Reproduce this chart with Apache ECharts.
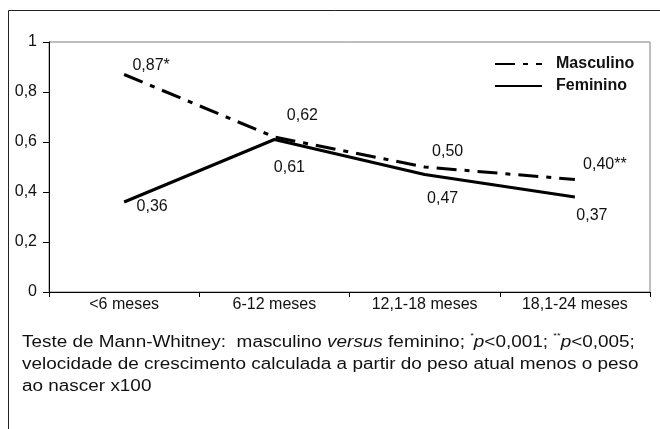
<!DOCTYPE html>
<html>
<head>
<meta charset="utf-8">
<script src="https://cdn.jsdelivr.net/npm/echarts@6/dist/echarts.min.js"></script>
<style>
html,body{margin:0;padding:0;background:#fff;}
#chart{width:660px;height:429px;}
</style>
</head>
<body>
<div id="chart"></div>
<script>
var categories = ['<6 meses', '6-12 meses', '12,1-18 meses', '18,1-24 meses'];
var masculino = [0.87, 0.62, 0.50, 0.45];
var feminino = [0.36, 0.61, 0.47, 0.38];
var masculinoLabels = ['0,87*', '0,62', '0,50', '0,40**'];
var femininoLabels = ['0,36', '0,61', '0,47', '0,37'];
var yTicks = { min: 0, max: 1, interval: 0.2 };

// label layout offsets (style, not data)
var mascOffsets = [[27, -9], [28, -21], [23, -15], [30, -15]];
var femOffsets = [[28, 5], [15, 28], [18, 24], [17, 19]];

var FONT = '"Liberation Sans", Arial, sans-serif';
var TXT = '#111';

function mkData(vals, offs) {
  return vals.map(function (v, i) {
    return { value: v, label: { offset: offs[i] } };
  });
}

var chart = echarts.init(document.getElementById('chart'), null, { renderer: 'canvas' });
chart.setOption({
  backgroundColor: '#fff',
  animation: false,
  grid: { left: 49, top: 42, right: 10, bottom: 137, show: true, borderColor: '#7f7f7f', borderWidth: 1 },
  legend: {
    orient: 'vertical', left: 494, top: 56, padding: 0, itemWidth: 47, itemHeight: 14, itemGap: 6,
    textStyle: { fontFamily: FONT, fontSize: 16, fontWeight: 'bold', color: TXT, padding: [0, 0, 0, 9] },
    data: ['Masculino', 'Feminino']
  },
  xAxis: {
    type: 'category', data: categories, boundaryGap: true,
    axisLine: { lineStyle: { color: '#000', width: 1 } },
    axisTick: { show: true, length: 5, lineStyle: { color: '#000' } },
    axisLabel: { fontFamily: FONT, fontSize: 16, color: TXT, margin: 5 },
    splitLine: { show: false }
  },
  yAxis: {
    type: 'value', min: yTicks.min, max: yTicks.max, interval: yTicks.interval,
    axisLine: { show: true, lineStyle: { color: '#000', width: 1 } },
    axisTick: { show: true, length: 6, lineStyle: { color: '#000' } },
    axisLabel: {
      fontFamily: FONT, fontSize: 16, color: TXT, margin: 12,
      formatter: function (v) { return String(+v.toFixed(1)).replace('.', ','); }
    },
    splitLine: { show: false }
  },
  series: [
    {
      name: 'Masculino', type: 'line', data: mkData(masculino, mascOffsets),
      symbol: 'circle', symbolSize: 1, showSymbol: true, itemStyle: { color: 'rgba(0,0,0,0)', borderWidth: 0 },
      lineStyle: { color: '#000', width: 3, type: [20, 8, 5, 8] },
      label: {
        show: true, position: 'inside', fontFamily: FONT, fontSize: 16, color: TXT,
        formatter: function (p) { return masculinoLabels[p.dataIndex]; }
      },
      z: 3
    },
    {
      name: 'Feminino', type: 'line', data: mkData(feminino, femOffsets),
      symbol: 'circle', symbolSize: 1, showSymbol: true, itemStyle: { color: 'rgba(0,0,0,0)', borderWidth: 0 },
      lineStyle: { color: '#000', width: 3, type: 'solid' },
      label: {
        show: true, position: 'inside', fontFamily: FONT, fontSize: 16, color: TXT,
        formatter: function (p) { return femininoLabels[p.dataIndex]; }
      },
      z: 2
    }
  ],
  graphic: [
    { type: 'line', shape: { x1: 8.5, y1: 10.5, x2: 660, y2: 10.5 }, style: { stroke: '#222', lineWidth: 1 }, silent: true },
    { type: 'line', shape: { x1: 8.5, y1: 10.5, x2: 8.5, y2: 429 }, style: { stroke: '#222', lineWidth: 1 }, silent: true },
    {
      type: 'text', x: 22, y: 332, scaleX: 1.183, scaleY: 1, silent: true,
      style: {
        x: 0, y: 0, verticalAlign: 'top', align: 'left',
        text: '{n|Teste de Mann-Whitney:  masculino }{i|versus}{n| feminino; }{s|*}{i|p}{n|<0,001; }{s|**}{i|p}{n|<0,005;}\n' +
              '{n|velocidade de crescimento calculada a partir do peso atual menos o peso}\n' +
              '{n|ao nascer x100}',
        fill: TXT, fontFamily: FONT, fontSize: 16, lineHeight: 22,
        rich: {
          n: { fontFamily: FONT, fontSize: 16, fill: TXT, lineHeight: 22 },
          i: { fontFamily: FONT, fontSize: 16, fill: TXT, fontStyle: 'italic', lineHeight: 22 },
          s: { fontFamily: FONT, fontSize: 8, fill: TXT, verticalAlign: 'top', lineHeight: 22, padding: [0, 0, 8, 0] }
        }
      }
    }
  ]
});
</script>
</body>
</html>
